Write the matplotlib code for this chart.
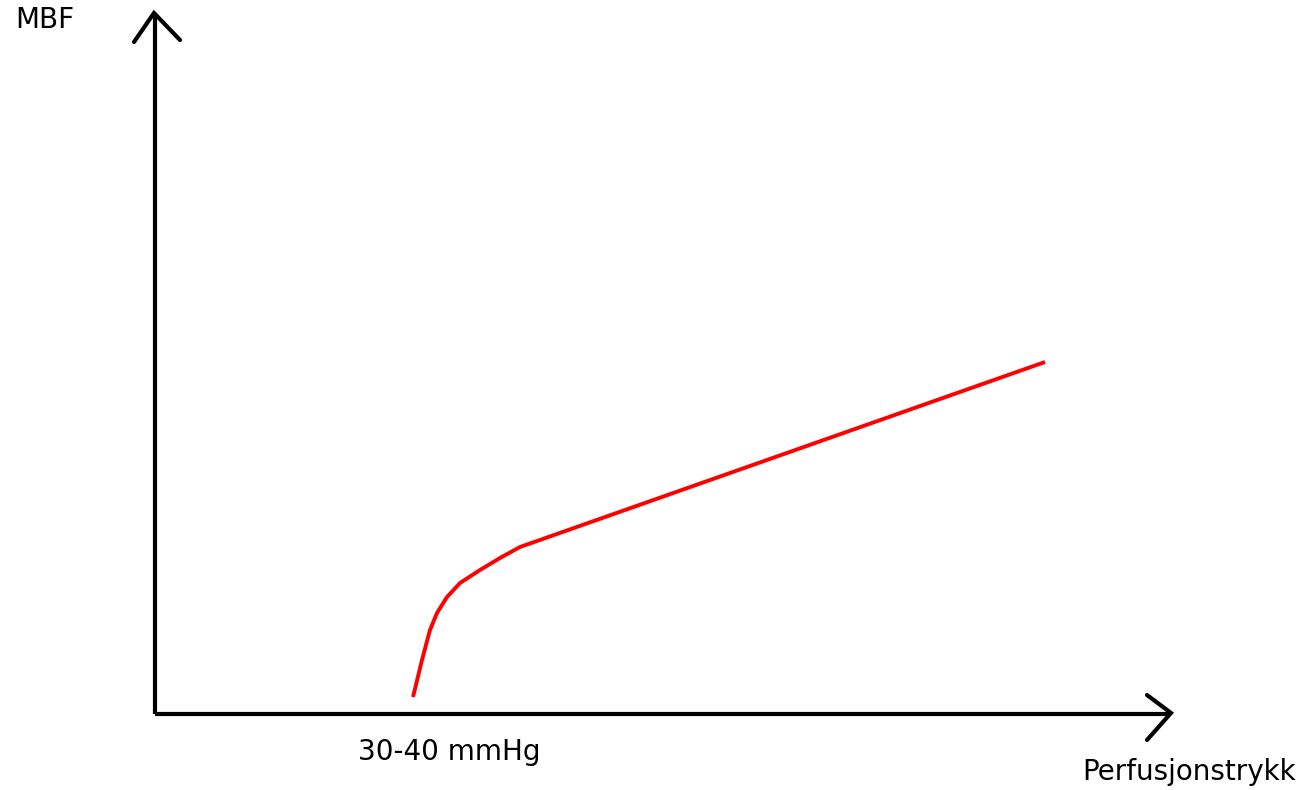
import matplotlib
matplotlib.use("Agg")
import matplotlib.pyplot as plt

# perfusion pressure vs myocardial blood flow (arbitrary units)
pressure = [258, 267, 275, 282, 292, 305, 325, 345, 365, 890]
mbf = [17, 54, 84, 101, 117, 131, 144, 156, 167, 352]

x_label = "Perfusjonstrykk"
y_label = "MBF"
threshold_label = "30-40 mmHg"

fig = plt.figure(figsize=(13.04, 7.90), dpi=100)
ax = fig.add_axes([0, 0, 1, 1])
ax.set_xlim(-155, 1149)
ax.set_ylim(-76, 714)
ax.axis("off")

lw = 3.0
# axes with hand drawn arrow heads
ax.plot([0, 0], [0, 701], color="black", lw=lw, solid_capstyle="butt")
ax.plot([-21, -1, 25], [672, 701, 674], color="black", lw=lw,
        solid_capstyle="round", solid_joinstyle="miter")
ax.plot([0, 1016], [0, 0], color="black", lw=lw, solid_capstyle="butt")
ax.plot([992, 1016, 992], [19, 1, -26], color="black", lw=lw,
        solid_capstyle="round", solid_joinstyle="miter")

ax.plot(pressure, mbf, color="#ff0000", lw=2.8, solid_capstyle="butt")

font = dict(family="DejaVu Sans", fontsize=20, color="black")
ax.text(-140, 686, y_label, va="baseline", ha="left", **font)
ax.text(203, -46, threshold_label, va="baseline", ha="left", **font)
ax.text(927, -66, x_label, va="baseline", ha="left", **font)

fig.savefig("out.png", dpi=100)
